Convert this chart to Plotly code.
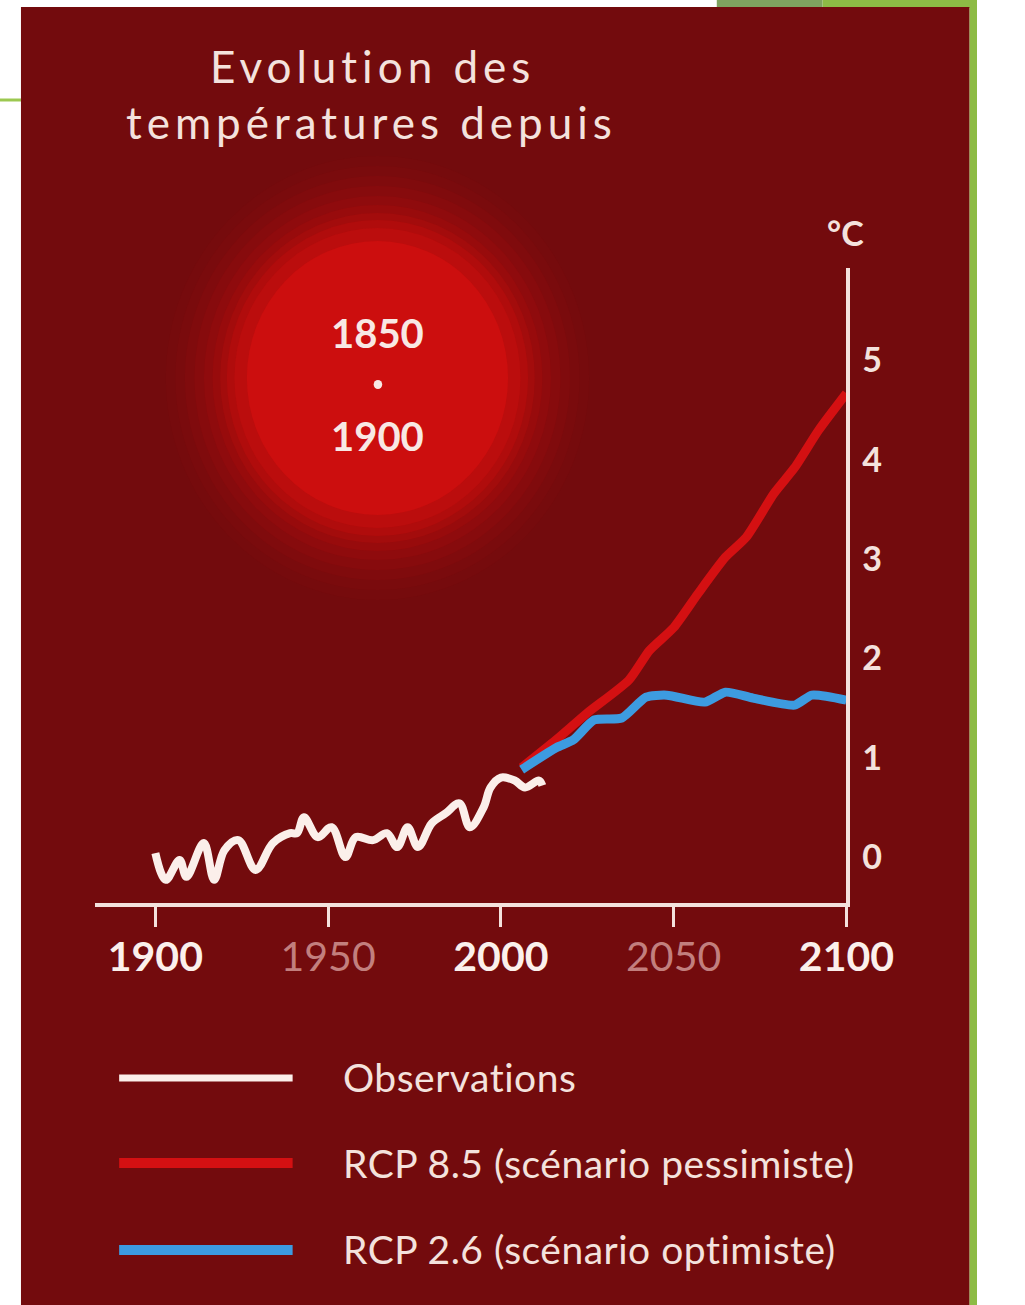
import plotly.graph_objects as go

W, H = 1025, 1305

# Observed global temperature anomaly (°C, relative to 1850-1900)
obs_years = [1900, 1903, 1907, 1909, 1914, 1917, 1920, 1924, 1929, 1934, 1939, 1941,
             1943, 1947, 1951, 1955, 1958, 1963, 1967, 1970, 1973, 1976, 1980, 1984,
             1988, 1991, 1995, 1997, 2000, 2004, 2007, 2011, 2012]
obs_vals = [0.04, -0.23, -0.03, -0.20, 0.14, -0.23, 0.07, 0.17, -0.13, 0.14, 0.24, 0.24,
            0.40, 0.20, 0.30, 0.00, 0.20, 0.17, 0.24, 0.10, 0.30, 0.10, 0.34, 0.44,
            0.54, 0.30, 0.50, 0.70, 0.80, 0.77, 0.70, 0.77, 0.72]

# RCP 8.5 projection
rcp85_years = [2006, 2016, 2025, 2037, 2043, 2050, 2057, 2065, 2071, 2079, 2085, 2092, 2100]
rcp85_vals = [0.90, 1.18, 1.45, 1.78, 2.08, 2.31, 2.65, 3.02, 3.22, 3.66, 3.92, 4.30, 4.67]

# RCP 2.6 projection
rcp26_years = [2006, 2016, 2021, 2027, 2035, 2042, 2048, 2059, 2065, 2073, 2085, 2090, 2100]
rcp26_vals = [0.88, 1.10, 1.18, 1.38, 1.40, 1.61, 1.63, 1.56, 1.66, 1.60, 1.53, 1.63, 1.58]

x_ticks = [1900, 1950, 2000, 2050, 2100]
x_tick_text = ["<b>1900</b>", "<span style='color:#c27f7e'>1950</span>", "<b>2000</b>",
               "<span style='color:#c27f7e'>2050</span>", "<b>2100</b>"]
y_ticks = [0, 1, 2, 3, 4, 5]
y_tick_text = ["<b>0</b>", "<b>1</b>", "<b>2</b>", "<b>3</b>", "<b>4</b>", "<b>5</b>"]

legend_labels = ["Observations", "RCP 8.5 (scénario pessimiste)", "RCP 2.6 (scénario optimiste)"]

BG = "#730b0d"
FG = "#f4e2dd"
WHITE_LINE = "#fbefea"
RED_LINE = "#d41012"
BLUE_LINE = "#3d9be0"
FONT = "Lato"


def px(x):
    return x / W


def py(y):
    return 1 - y / H


fig = go.Figure()

fig.add_trace(go.Scatter(x=obs_years, y=obs_vals, mode="lines",
                         line=dict(color=WHITE_LINE, width=8, shape="spline", smoothing=1.0),
                         showlegend=False, hoverinfo="skip"))
fig.add_trace(go.Scatter(x=rcp85_years, y=rcp85_vals, mode="lines",
                         line=dict(color=RED_LINE, width=9, shape="spline", smoothing=0.6),
                         showlegend=False, hoverinfo="skip"))
fig.add_trace(go.Scatter(x=rcp26_years, y=rcp26_vals, mode="lines",
                         line=dict(color=BLUE_LINE, width=9, shape="spline", smoothing=0.6),
                         showlegend=False, hoverinfo="skip"))

shapes = []
# page decorations
shapes.append(dict(type="rect", xref="paper", yref="paper", x0=px(752), x1=px(863), y0=py(8), y1=1,
                   fillcolor="#7fa35f", line_width=0, layer="below"))
shapes.append(dict(type="rect", xref="paper", yref="paper", x0=px(863), x1=1, y0=py(8), y1=1,
                   fillcolor="#8dbb45", line_width=0, layer="below"))
shapes.append(dict(type="rect", xref="paper", yref="paper", x0=px(1017), x1=1, y0=0, y1=1,
                   fillcolor="#8dbb45", line_width=0, layer="below"))
shapes.append(dict(type="line", xref="paper", yref="paper", x0=0, x1=px(22), y0=py(100), y1=py(100),
                   line=dict(color="#9cc850", width=3), layer="below"))
# dark panel
shapes.append(dict(type="rect", xref="paper", yref="paper", x0=px(22), x1=px(1017), y0=0, y1=py(7),
                   fillcolor=BG, line_width=0, layer="below"))

# glowing disc
cx, cy = 396, 378
glow = [(222, "#760b0d"), (212, "#7a0b0d"), (202, "#800b0d"), (192, "#870b0d"),
        (182, "#8f0b0d"), (173, "#980b0c"), (165, "#a30c0c"), (158, "#b00c0c"),
        (150, "#bb0d0d"), (137, "#cc0e0e")]
for r, c in glow:
    shapes.append(dict(type="circle", xref="paper", yref="paper",
                       x0=px(cx - r), x1=px(cx + r), y0=py(cy + r), y1=py(cy - r),
                       fillcolor=c, line_width=0, layer="below"))

# legend samples
for yy, col, wd in [(1078, WHITE_LINE, 7), (1163, RED_LINE, 10), (1250, BLUE_LINE, 10)]:
    shapes.append(dict(type="line", xref="paper", yref="paper", x0=px(125), x1=px(307),
                       y0=py(yy), y1=py(yy), line=dict(color=col, width=wd)))

annotations = []
annotations.append(dict(xref="paper", yref="paper", x=px(391), y=py(66), xanchor="center", yanchor="middle",
                        text="<span style='letter-spacing:5px'>Evolution des</span>", showarrow=False,
                        font=dict(family=FONT, size=44, color=FG)))
annotations.append(dict(xref="paper", yref="paper", x=px(390), y=py(122), xanchor="center", yanchor="middle",
                        text="<span style='letter-spacing:5px'>températures depuis</span>", showarrow=False,
                        font=dict(family=FONT, size=44, color=FG)))
annotations.append(dict(xref="paper", yref="paper", x=px(396), y=py(333), xanchor="center", yanchor="middle",
                        text="<b>1850</b>", showarrow=False, font=dict(family=FONT, size=40, color="#f8e8e4")))
annotations.append(dict(xref="paper", yref="paper", x=px(396), y=py(436), xanchor="center", yanchor="middle",
                        text="<b>1900</b>", showarrow=False, font=dict(family=FONT, size=40, color="#f8e8e4")))
shapes.append(dict(type="circle", xref="paper", yref="paper", x0=px(392), x1=px(401), y0=py(389), y1=py(380),
                   fillcolor="#f8e8e4", line_width=0))
annotations.append(dict(xref="paper", yref="paper", x=px(887), y=py(233), xanchor="center", yanchor="middle",
                        text="<b>°C</b>", showarrow=False, font=dict(family=FONT, size=34, color=FG)))
for yy, label in zip([1077, 1163, 1249], legend_labels):
    annotations.append(dict(xref="paper", yref="paper", x=px(358), y=py(yy), xanchor="left", yanchor="middle",
                            text=f"<span style='letter-spacing:0.5px'>{label}</span>", showarrow=False,
                            font=dict(family=FONT, size=39, color=FG)))

# axis geometry: x line at y=903px, y line at x=888px
y_top_px, y_bot_px = 268, 903
y0_px, per_deg = 857, 99.3
y_lo = (y0_px - y_bot_px) / per_deg
y_hi = (y0_px - y_top_px) / per_deg
x_left_px, x_right_px = 100, 888
px_per_year = 3.625
x_lo = 1900 - (163 - x_left_px) / px_per_year

fig.update_layout(
    width=W, height=H,
    margin=dict(l=0, r=0, t=0, b=0),
    paper_bgcolor="white",
    plot_bgcolor="rgba(0,0,0,0)",
    shapes=shapes,
    annotations=annotations,
    showlegend=False,
    xaxis=dict(domain=[px(x_left_px), px(x_right_px)], range=[x_lo, 2100],
               showgrid=False, zeroline=False, showline=True, linecolor=FG, linewidth=4,
               ticks="outside", ticklen=20, tickwidth=3, tickcolor=FG,
               tickvals=x_ticks, ticktext=x_tick_text, ticklabelstandoff=-5,
               tickfont=dict(family=FONT, size=41, color="#fbf0ec")),
    yaxis=dict(domain=[py(y_bot_px), py(y_top_px)], range=[y_lo, y_hi],
               side="right", anchor="x",
               showgrid=False, zeroline=False, showline=True, linecolor=FG, linewidth=4,
               ticks="", tickvals=y_ticks, ticktext=y_tick_text, ticklabelstandoff=5,
               tickfont=dict(family=FONT, size=34, color=FG)),
)

fig.write_html("out.html")
